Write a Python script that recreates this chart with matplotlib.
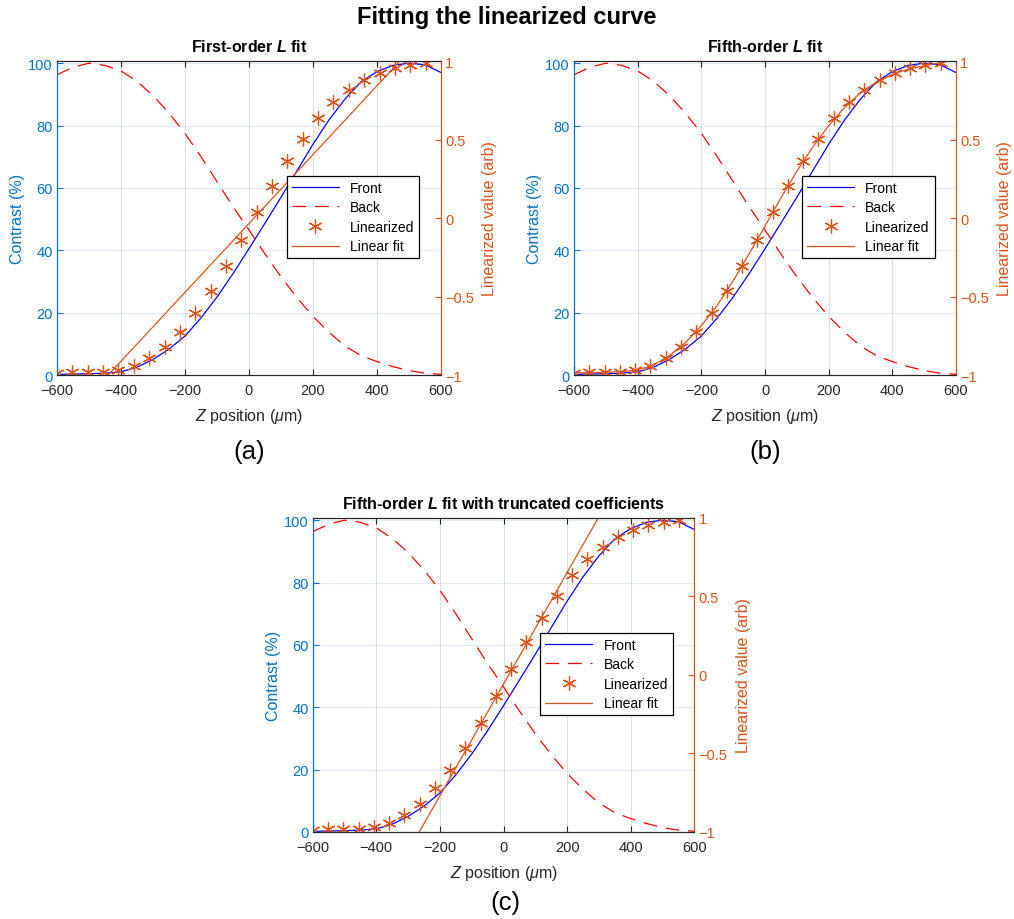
"""
plot.py - fitting the linearized curve, three panels
"""

import matplotlib
matplotlib.use('Agg')
from matplotlib import pyplot as plt

plt.rcParams['font.family'] = ['Liberation Sans', 'DejaVu Sans']
plt.rcParams['mathtext.fontset'] = 'custom'
plt.rcParams['mathtext.rm'] = 'Liberation Sans'
plt.rcParams['mathtext.it'] = 'Liberation Sans:italic'
plt.rcParams['mathtext.bf'] = 'Liberation Sans:bold'
plt.rcParams['mathtext.bfit'] = 'Liberation Sans:bold:italic'

BLUE_AX = '#0072BD'
ORANGE = '#D95319'
DARK = '#262626'

# contrast curves (left axis, %)
z_curve = [-600, -550, -500, -450, -400, -350, -300, -250, -200, -150, -100, -50, 0,
           50, 100, 150, 200, 250, 300, 350, 400, 450, 500, 550, 600]
front = [0.2, 0.3, 0.4, 0.6, 1.0, 2.5, 5.0, 8.3, 12.5, 18.3, 25.0, 32.5, 40.5,
         48.7, 57.0, 65.5, 74.0, 81.8, 88.5, 94.0, 97.3, 99.3, 100.0, 99.5, 97.0]
back = [96.3, 98.7, 100.0, 99.3, 97.5, 94.2, 89.6, 84.0, 77.5, 70.0, 62.0, 54.0, 46.5,
        38.8, 31.5, 24.8, 18.8, 13.7, 9.3, 6.2, 4.3, 2.7, 1.4, 0.6, 0.2]

# linearized points (right axis, arb)
z_lin = [-600, -552, -504, -456, -408, -360, -312, -264, -216, -168, -120, -72, -24,
         24, 72, 120, 168, 216, 264, 312, 360, 408, 456, 504, 552]
lin_val = [-0.988, -0.984, -0.982, -0.978, -0.966, -0.941, -0.889, -0.819, -0.723,
           -0.605, -0.464, -0.305, -0.137, 0.036, 0.207, 0.364, 0.506, 0.635, 0.736,
           0.818, 0.878, 0.924, 0.954, 0.975, 0.990]

# fits
z_line = [-600, 600]
fit_first = [-1.351, 1.281]
fit_trunc = [-2.19, 2.073]
fit_fifth = [-0.986, -0.985, -0.983, -0.979, -0.967, -0.937, -0.876, -0.794, -0.686,
             -0.556, -0.400, -0.228, -0.052, 0.128, 0.298, 0.452, 0.588, 0.704,
             0.798, 0.866, 0.915, 0.948, 0.970, 0.988, 1.010]

panels = [
  {'pos': [0.0562, 0.5913, 0.3787, 0.3413], 'title': r'First-order $\mathbfit{L}$ fit',
   'fit_z': z_line, 'fit': fit_first, 'tag': '(a)', 'tag_xy': (0.2456, 0.509)},
  {'pos': [0.5661, 0.5913, 0.3767, 0.3413], 'title': r'Fifth-order $\mathbfit{L}$ fit',
   'fit_z': z_curve, 'fit': fit_fifth, 'tag': '(b)', 'tag_xy': (0.7544, 0.509)},
  {'pos': [0.3084, 0.0946, 0.3763, 0.3413],
   'title': r'Fifth-order $\mathbfit{L}$ fit with truncated coefficients',
   'fit_z': z_line, 'fit': fit_trunc, 'tag': '(c)', 'tag_xy': (0.498, 0.019)},
]

fig = plt.figure(figsize=(10.14, 9.2), dpi=100)
fig.text(0.5, 0.981, 'Fitting the linearized curve', ha='center', va='center',
         fontsize=17, fontweight='bold')

for p in panels:
  ax = fig.add_axes(p['pos'])
  ax2 = ax.twinx()

  h1, = ax.plot(z_curve, front, color='#0000FF', lw=0.9)
  h2, = ax.plot(z_curve, back, color='#FF0000', lw=0.9, ls=(0, (11, 7)))
  h3, = ax2.plot(z_lin, lin_val, ls='none', marker=(6, 2, 0), ms=10, mew=0.9,
                 color=ORANGE)
  h4, = ax2.plot(p['fit_z'], p['fit'], color=ORANGE, lw=0.9)

  ax.set_xlim(-600, 600)
  ax.set_ylim(0, 100.7)
  ax2.set_ylim(-1, 1)
  ax.set_xticks([-600, -400, -200, 0, 200, 400, 600])
  ax.set_xticklabels(['\u2212600', '\u2212400', '\u2212200', '0', '200', '400', '600'])
  ax.set_yticks([0, 20, 40, 60, 80, 100])
  ax2.set_yticks([-1, -0.5, 0, 0.5, 1])
  ax2.set_yticklabels(['\u22121', '\u22120.5', '0', '0.5', '1'])

  ax.tick_params(axis='x', direction='in', top=True, length=4, colors=DARK,
                 labelsize=10.5, pad=6)
  ax.tick_params(axis='y', direction='in', length=4, colors=BLUE_AX, labelsize=10.5, pad=3)
  ax2.tick_params(axis='y', direction='in', length=4, colors=ORANGE, labelsize=10.5, pad=3)

  ax.xaxis.grid(True, color=DARK, alpha=0.15, lw=0.8)
  ax.yaxis.grid(True, color=BLUE_AX, alpha=0.12, lw=0.8)

  for a in (ax, ax2):
    a.spines['top'].set_color(DARK)
    a.spines['bottom'].set_color(DARK)
    a.spines['left'].set_color(BLUE_AX)
    a.spines['right'].set_color(ORANGE)

  ax.set_xlabel(r'$Z$ position ($\mu$m)', fontsize=11.5, color=DARK, labelpad=6)
  ax.set_ylabel('Contrast (%)', fontsize=11.5, color=BLUE_AX, labelpad=2)
  ax2.set_ylabel('Linearized value (arb)', fontsize=11.5, color=ORANGE, labelpad=6)
  ax.set_title(p['title'], fontsize=11.5, fontweight='bold', pad=7)

  leg = ax2.legend([h1, h2, h3, h4], ['Front', 'Back', 'Linearized', 'Linear fit'],
                   loc='center right', bbox_to_anchor=(0.962, 0.503), fontsize=10,
                   handlelength=3.4, fancybox=False, framealpha=1,
                   edgecolor='black', borderpad=0.35, labelspacing=0.4)
  leg.get_frame().set_linewidth(0.9)

  fig.text(p['tag_xy'][0], p['tag_xy'][1], p['tag'], ha='center', va='center',
           fontsize=18.5)

fig.savefig('out.png', dpi=100)
